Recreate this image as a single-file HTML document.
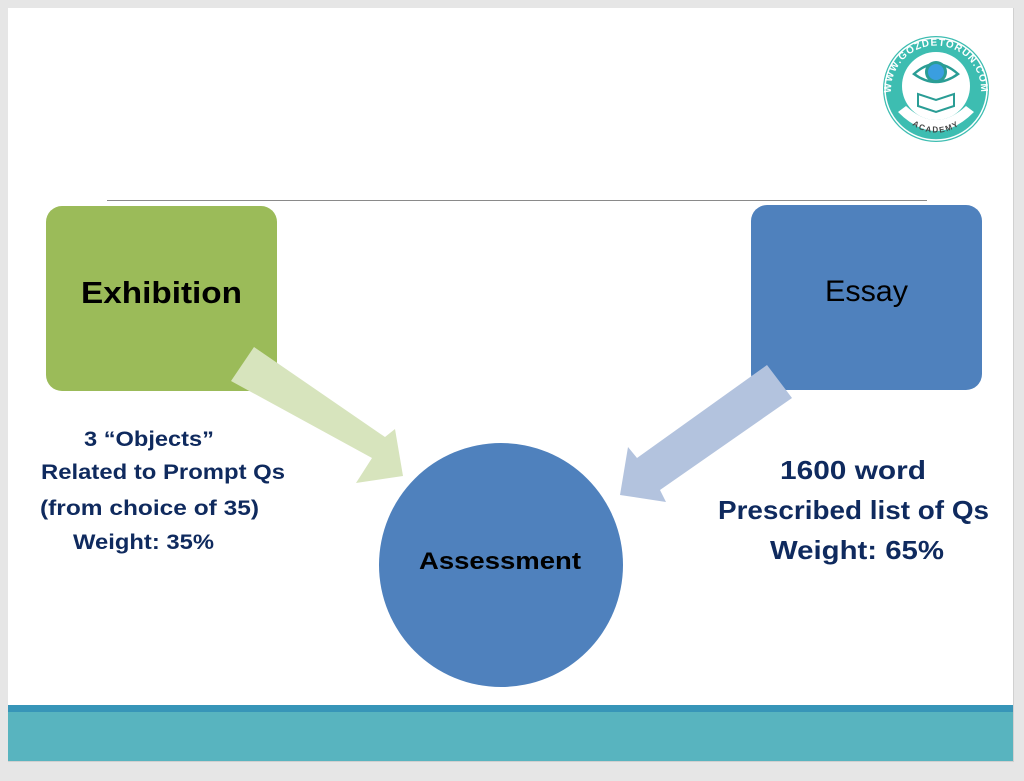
<!DOCTYPE html>
<html><head><meta charset="utf-8"><style>
html,body{margin:0;padding:0;background:#e6e6e6;}
svg{display:block;}
text{font-family:"Liberation Sans",sans-serif;}
</style></head><body>
<svg width="1024" height="781" viewBox="0 0 1024 781" xmlns="http://www.w3.org/2000/svg">
<defs>
<path id="arc" d="M892 100 A45 45 0 1 1 980 100"/>
<path id="arc2" d="M905 118 A40 40 0 0 0 967 118"/>
</defs>
<rect x="0" y="0" width="1024" height="781" fill="#e6e6e6"/>
<rect x="8" y="8" width="1006" height="754" fill="#d0d0d0"/>
<rect x="8" y="8" width="1005" height="753" fill="#ffffff"/>
<rect x="8" y="705" width="1005" height="7" fill="#3795b8"/>
<rect x="8" y="712" width="1005" height="49" fill="#58b4bf"/>
<line x1="107" y1="200.5" x2="927" y2="200.5" stroke="#8a8a8a" stroke-width="1"/>

<!-- logo -->
<circle cx="936" cy="89" r="53" fill="#3dbdb1"/>
<circle cx="936" cy="89" r="51" fill="none" stroke="#ffffff" stroke-width="1.5"/>
<circle cx="936" cy="86" r="34" fill="#ffffff"/>
<path d="M898 112 Q936 150 974 112 L966 106 Q936 134 906 106 Z" fill="#ffffff"/>
<text font-size="10" font-weight="bold" fill="#ffffff" font-family="Liberation Serif,serif" letter-spacing="1"><textPath href="#arc" startOffset="50%" text-anchor="middle">WWW.GOZDETORUN.COM</textPath></text>
<text font-size="8" font-weight="bold" fill="#444" font-family="Liberation Serif,serif" letter-spacing="1.5"><textPath href="#arc2" startOffset="50%" text-anchor="middle">ACADEMY</textPath></text>
<path d="M914 74 Q936 54 958 74 Q936 90 914 74 Z" fill="none" stroke="#2a9d95" stroke-width="2.5"/>
<circle cx="936" cy="72" r="11" fill="#2a9d95"/>
<circle cx="936" cy="72" r="8" fill="#3a9ee0"/>
<path d="M918 106 L936 112 L954 106 L954 94 L936 100 L918 94 Z" fill="none" stroke="#2a9d95" stroke-width="2"/>

<!-- boxes -->
<rect x="46" y="206" width="231" height="185" rx="16" fill="#9bbb59"/>
<rect x="751" y="205" width="231" height="185" rx="16" fill="#4f81bd"/>
<circle cx="501" cy="565" r="122" fill="#4f81bd"/>

<!-- arrows -->
<polygon points="254,347 231,381 372,458 356,483 403,476 395,429 385,437" fill="#d7e4bd"/>
<polygon points="767,365 792,398 660,490 666,502 620,495 628,447 637,458" fill="#b3c3de"/>

<text x="81" y="303" font-size="31" font-weight="bold" fill="#000" textLength="161" lengthAdjust="spacingAndGlyphs">Exhibition</text>
<text x="825" y="301" font-size="30" fill="#000" textLength="83" lengthAdjust="spacingAndGlyphs">Essay</text>
<text x="419" y="569" font-size="24" font-weight="bold" fill="#000" textLength="162" lengthAdjust="spacingAndGlyphs">Assessment</text>

<g fill="#0f2a5e" font-weight="bold" font-size="21">
<text x="84" y="446" textLength="130" lengthAdjust="spacingAndGlyphs">3 “Objects”</text>
<text x="41" y="479" textLength="244" lengthAdjust="spacingAndGlyphs">Related to Prompt Qs</text>
<text x="40" y="515" textLength="219" lengthAdjust="spacingAndGlyphs">(from choice of 35)</text>
<text x="73" y="549" textLength="141" lengthAdjust="spacingAndGlyphs">Weight: 35%</text>
</g>
<g fill="#0f2a5e" font-weight="bold" font-size="26">
<text x="780" y="479" textLength="146" lengthAdjust="spacingAndGlyphs">1600 word</text>
<text x="718" y="519" textLength="271" lengthAdjust="spacingAndGlyphs">Prescribed list of Qs</text>
<text x="770" y="559" textLength="174" lengthAdjust="spacingAndGlyphs">Weight: 65%</text>
</g>
</svg>
</body></html>
